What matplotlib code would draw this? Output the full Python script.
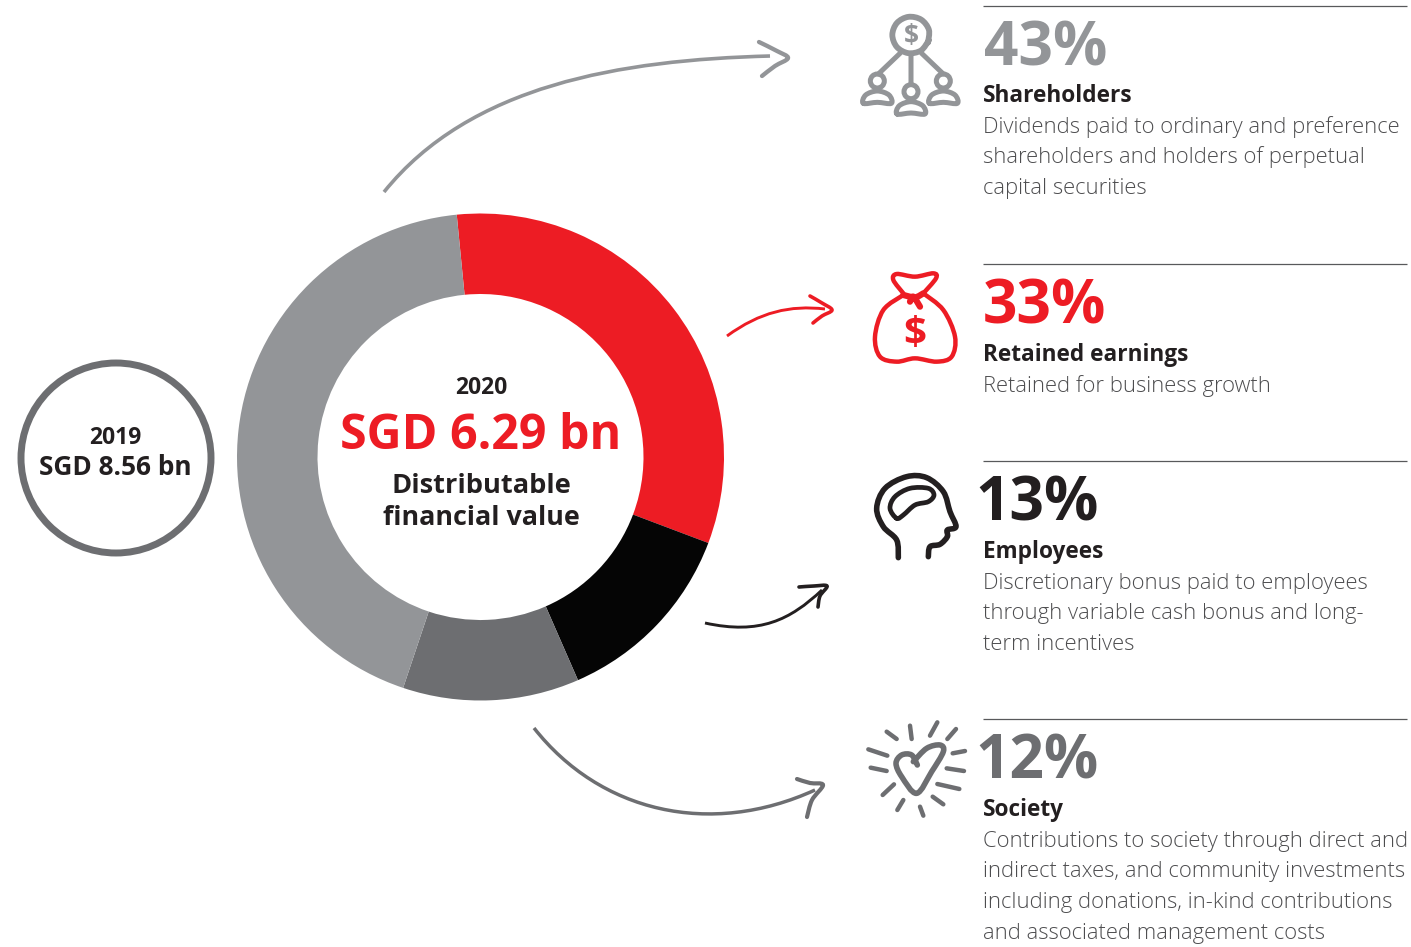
import matplotlib
matplotlib.use("Agg")
import matplotlib.pyplot as plt
from matplotlib.path import Path
from matplotlib.patches import PathPatch, Circle
import numpy as np

plt.rcParams['font.family'] = ['Open Sans', 'DejaVu Sans']

RED = '#ed1c24'
BLACK = '#050505'
DGREY = '#6d6e71'
GREY = '#939598'
INK = '#231f20'

# ring shares as drawn (red, black, dark grey, grey)
ring_values = [32.3, 12.7, 11.7, 43.3]
ring_colors = [RED, BLACK, DGREY, GREY]

pct_labels = ['43%', '33%', '13%', '12%']
pct_colors = [GREY, RED, INK, DGREY]
headings = ['Shareholders', 'Retained earnings', 'Employees', 'Society']
bodies = [
    ['Dividends paid to ordinary and preference',
     'shareholders and holders of perpetual',
     'capital securities'],
    ['Retained for business growth'],
    ['Discretionary bonus paid to employees',
     'through variable cash bonus and long-',
     'term incentives'],
    ['Contributions to society through direct and',
     'indirect taxes, and community investments',
     'including donations, in-kind contributions',
     'and associated management costs'],
]

W, H = 1411, 947
fig = plt.figure(figsize=(W / 100, H / 100), dpi=100)
ax = fig.add_axes([0, 0, 1, 1])
ax.set_xlim(0, W)
ax.set_ylim(H, 0)
ax.axis('off')


def smooth(pts, closed=False):
    # catmull-rom through the points, returned as a bezier path
    p = np.array(pts, dtype=float)
    if closed:
        p = np.vstack([p, p[0]])
        prev = np.vstack([p[-2], p[:-1]])
        nxt = np.vstack([p[1:], p[1]])
    else:
        prev = np.vstack([p[0], p[:-1]])
        nxt = np.vstack([p[1:], p[-1]])
    verts = [p[0]]
    codes = [Path.MOVETO]
    for i in range(len(p) - 1):
        c1 = p[i] + (nxt[i] - prev[i]) / 6
        c2 = p[i + 1] - (nxt[i + 1] - prev[i + 1]) / 6
        verts += [c1, c2, p[i + 1]]
        codes += [Path.CURVE4] * 3
    return Path(verts, codes)


def stroke(pts, color, lw, closed=False, origin=(0, 0), scale=1.0):
    p = [(origin[0] + x * scale, origin[1] + y * scale) for x, y in pts]
    ax.add_patch(PathPatch(smooth(p, closed), fc='none', ec=color, lw=lw,
                           capstyle='round', joinstyle='round'))


def arrow(curve, head, color, lw=2.1):
    path = Path(curve, [Path.MOVETO, Path.CURVE4, Path.CURVE4, Path.CURVE4])
    ax.add_patch(PathPatch(path, fc='none', ec=color, lw=lw, capstyle='butt'))
    ax.add_patch(PathPatch(smooth(head), fc='none', ec=color, lw=lw + 0.5, capstyle='round'))


# donut
cx, cy, ro, ri = 480.5, 457, 243.5, 163
ring_ax = fig.add_axes([(cx - ro) / W, 1 - (cy + ro) / H, 2 * ro / W, 2 * ro / H])
ring_ax.pie(ring_values, colors=ring_colors, startangle=95.6, counterclock=False,
            radius=1, wedgeprops={'width': (ro - ri) / ro, 'linewidth': 0})
ring_ax.set_xlim(-1, 1)
ring_ax.set_ylim(-1, 1)

ax.text(481, 394, '2020', ha='center', va='baseline', fontsize=16.5, fontweight='bold', color=INK)
ax.text(481, 449, 'SGD 6.29 bn', ha='center', va='baseline', fontsize=34.8, fontweight='bold', color=RED)
ax.text(481, 493, 'Distributable', ha='center', va='baseline', fontsize=19.6, fontweight='bold', color=INK)
ax.text(481, 525, 'financial value', ha='center', va='baseline', fontsize=19.4, fontweight='bold', color=INK)

# 2019 circle
ax.add_patch(Circle((116, 458), 95, fc='none', ec=DGREY, lw=5.0))
ax.text(115, 444, '2019', ha='center', va='baseline', fontsize=16.5, fontweight='bold', color=INK)
ax.text(115, 475, 'SGD 8.56 bn', ha='center', va='baseline', fontsize=18.9, fontweight='bold', color=INK)

# arrows
arrow([(384, 192), (470, 85), (620, 60), (770, 56)], [(759, 42), (777, 51), (788, 58), (775, 66), (762, 76)], GREY, 2.6)
arrow([(727, 336), (760, 312), (790, 305), (825, 309)], [(810, 296), (822, 303), (832, 310), (822, 316), (813, 323)], RED)
arrow([(705, 623), (760, 635), (790, 620), (822, 590)], [(799, 587), (814, 586), (827, 586), (820, 596), (818, 607)], INK)
arrow([(534, 728), (600, 812), (710, 838), (815, 790)], [(797, 779), (810, 783), (823, 785), (812, 800), (807, 817)], DGREY, 2.5)

# text blocks on the right
rule_y = [6, 264, 461, 719]
pct_y = [65, 323, 520, 778]
pct_x = [984, 983, 975, 975]
head_y = [102, 361, 558, 816]
for i in range(4):
    ax.plot([983, 1407], [rule_y[i], rule_y[i]], color='#58595b', lw=0.9, solid_capstyle='butt')
    ax.text(pct_x[i], pct_y[i], pct_labels[i], ha='left', va='baseline', fontsize=43.5,
            fontweight='bold', color=pct_colors[i])
    ax.text(983, head_y[i], headings[i], ha='left', va='baseline', fontsize=16.3,
            fontweight='bold', color=INK)
    for j, line in enumerate(bodies[i]):
        ax.text(983, head_y[i] + 30.7 * (j + 1), line, ha='left', va='baseline',
                fontsize=15.8, fontweight='light', color='#4d4d4f')

# shareholders icon
o = (850, 0)
s = 1 / 3
t = np.linspace(0.3, 2 * np.pi + 0.9, 30)
stroke(list(zip(183 + 56 * np.cos(t)[::3], 105 + 55 * np.sin(t)[::3])), GREY, 4.2, origin=o, scale=s)
ax.text(911, 44, '$', ha='center', va='baseline', fontsize=19, fontweight='bold', color=GREY)
for a, b in [((183, 165), (183, 250)), ((150, 160), (85, 222)), ((215, 160), (280, 222))]:
    stroke([a, b], GREY, 3.6, origin=o, scale=s)
for hx, hy in [(82, 243), (183, 275), (280, 243)]:
    ax.add_patch(Circle((850 + hx * s, hy * s), 7, fc='none', ec=GREY, lw=3.6))
    body = [(hx - 42, hy + 67), (hx - 35, hy + 42), (hx, hy + 30), (hx + 35, hy + 42), (hx + 42, hy + 67), (hx, hy + 64)]
    stroke(body, GREY, 3.6, closed=True, origin=o, scale=s)

# money bag icon
o = (860, 260)
stroke([(130, 100), (100, 60), (110, 42), (165, 50), (220, 40), (228, 55), (190, 100)], RED, 3.2, origin=o, scale=s)
stroke([(130, 105), (70, 150), (45, 230), (60, 290), (110, 305), (165, 295), (230, 305),
        (275, 290), (285, 230), (250, 150), (190, 100)], RED, 3.2, origin=o, scale=s)
stroke([(130, 105), (165, 112), (190, 100)], RED, 4.5, origin=o, scale=s)
stroke([(150, 125), (160, 110), (180, 140)], RED, 4.5, origin=o, scale=s)
ax.text(915, 345, '$', ha='center', va='baseline', fontsize=29, fontweight='bold', color=RED)

# head icon
o = (860, 465)
stroke([(115, 278), (110, 225), (70, 185), (50, 130), (75, 70), (140, 35), (200, 38), (250, 80),
        (270, 140), (288, 185), (262, 195), (262, 215), (240, 238), (210, 245), (205, 275)],
       INK, 4.0, origin=o, scale=s)
stroke([(110, 160), (90, 130), (105, 95), (150, 70), (205, 70), (222, 90), (205, 110), (165, 120), (130, 150)],
       INK, 3.4, closed=True, origin=o, scale=s)

# heart icon
o = (860, 715)
stroke([(172, 150), (155, 120), (125, 120), (108, 145), (125, 185), (170, 235), (215, 170),
        (250, 110), (240, 90), (200, 100), (160, 140)], DGREY, 4.0, origin=o, scale=s)
rays = [((80, 50), (110, 72)), ((150, 32), (155, 72)), ((232, 22), (210, 62)), ((288, 42), (262, 72)),
        ((25, 103), (82, 122)), ((32, 158), (80, 168)), ((315, 108), (278, 115)), ((260, 160), (312, 168)),
        ((232, 207), (298, 222)), ((102, 208), (68, 240)), ((130, 255), (112, 285)), ((180, 275), (190, 302)),
        ((218, 245), (250, 268))]
for a, b in rays:
    stroke([a, b], DGREY, 3.2, origin=o, scale=s)

fig.savefig('out.png', dpi=100)
